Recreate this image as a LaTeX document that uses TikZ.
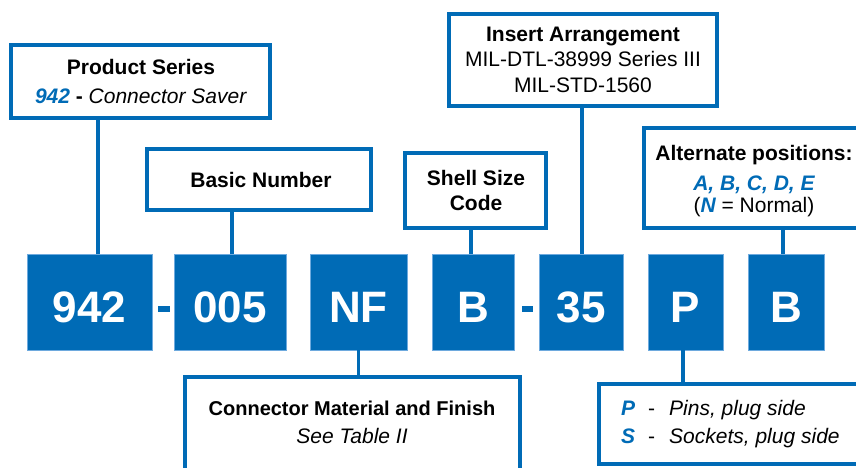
\documentclass[tikz,border=0pt]{standalone}
\usepackage{fontspec}
\setmainfont{Liberation Sans}
\definecolor{mainblue}{RGB}{0,107,182}
\definecolor{edgeblue}{RGB}{110,170,222}
\tikzset{
 codebox/.style={draw=edgeblue, line width=0.8pt, fill=mainblue, inner sep=0pt, outer sep=0pt, anchor=north west, minimum height=96pt},
 labelbox/.style={draw=mainblue, line width=3.5pt, fill=white, inner sep=0pt, outer sep=0pt, anchor=north west},
 dashbox/.style={fill=mainblue, inner sep=0pt, outer sep=0pt, minimum width=12pt, minimum height=6pt},
 link/.style={draw=mainblue, line width=3.5pt},
 codetxt/.style={text=white, font=\fontsize{44}{44}\selectfont\bfseries, anchor=base, inner sep=0pt},
 lbl/.style={font=\fontsize{21}{25}\selectfont, anchor=base, inner sep=0pt},
 lblb/.style={font=\fontsize{21}{25}\selectfont\bfseries, anchor=base, inner sep=0pt},
 lblw/.style={font=\fontsize{21}{25}\selectfont, anchor=base west, inner sep=0pt},
}
\begin{document}
\begin{tikzpicture}[x=1pt,y=-1pt]
\useasboundingbox (0,0) rectangle (856,468);
\clip (0,0) rectangle (856,468);
% label boxes
\node[labelbox, minimum width=259pt, minimum height=73pt] (ps) at (11,45) {};
\node[labelbox, minimum width=224pt, minimum height=61pt] (basic) at (147,149) {};
\node[labelbox, minimum width=141pt, minimum height=75pt] (shell) at (405,153) {};
\node[labelbox, minimum width=268pt, minimum height=92pt] (insert) at (449,14) {};
\node[labelbox, minimum width=226pt, minimum height=100pt] (alt) at (644,128) {};
\node[labelbox, minimum width=335pt, minimum height=110pt] (mat) at (185,377) {};
\node[labelbox, minimum width=271pt, minimum height=80pt] (pins) at (599,384) {};
% code boxes
\node[codebox, minimum width=125pt] (c942) at (27,254) {};
\node[codebox, minimum width=112pt] (c005) at (174,254) {};
\node[codebox, minimum width=97pt] (cNF) at (310,254) {};
\node[codebox, minimum width=82pt] (cB) at (432,254) {};
\node[codebox, minimum width=84pt] (c35) at (539,254) {};
\node[codebox, minimum width=75pt] (cP) at (648,254) {};
\node[codebox, minimum width=76pt] (cB2) at (748,254) {};
\node[dashbox] (d1) at (164,309) {};
\node[dashbox, minimum width=11pt] (d2) at (527.5,309) {};
% code texts
\node[codetxt] (t942) at (89.5,322) {942};
\node[codetxt] (t005) at (230,322) {005};
\node[codetxt] (tNF) at (358.5,322) {NF};
\node[codetxt] (tB) at (473,322) {B};
\node[codetxt] (t35) at (581,322) {35};
\node[codetxt] (tP) at (685.5,322) {P};
\node[codetxt] (tB2) at (786,322) {B};
% connectors
\draw[link] ([xshift=8.5pt]c942.north) -- ([xshift=8.5pt]c942.north |- ps.south);
\draw[link] ([xshift=2pt]c005.north) -- ([xshift=2pt]c005.north |- basic.south);
\draw[link] ([xshift=-2pt]cB.north) -- ([xshift=-2pt]cB.north |- shell.south);
\draw[link] ([xshift=1pt]c35.north) -- ([xshift=1pt]c35.north |- insert.south);
\draw[link] ([xshift=-3pt]cB2.north) -- ([xshift=-3pt]cB2.north |- alt.south);
\draw[link] (cNF.south) -- (cNF.south |- mat.north);
\draw[link] ([xshift=-2.5pt]cP.south) -- ([xshift=-2.5pt]cP.south |- pins.north);
% label texts
\node[lblb] (pst) at (141,75) {Product Series};
\node[lbl] (psd) at (141,104) {\textcolor{mainblue}{\bfseries\itshape 942} \textbf{-} \textit{Connector Saver}};
\node[lblb] (bnt) at (261,187) {Basic Number};
\node[lblb] (sst1) at (476,185) {Shell Size};
\node[lblb] (sst2) at (476,210) {Code};
\node[lblb] (iat1) at (583,42) {Insert Arrangement};
\node[lbl] (iat2) at (583,67) {MIL-DTL-38999 Series III};
\node[lbl] (iat3) at (583,93) {MIL-STD-1560};
\node[lblb] (alt1) at (754,160) {Alternate positions:};
\node[lbl, text=mainblue, font=\fontsize{21}{25}\selectfont\bfseries\itshape] (alt2) at (754,190) {A, B, C, D, E};
\node[lbl] (alt3) at (754,212) {(\textcolor{mainblue}{\bfseries\itshape N} = Normal)};
\node[lblb, font=\fontsize{20}{24}\selectfont\bfseries] (mat1) at (352,415) {Connector Material and Finish};
\node[lbl] (mat2) at (352,443) {\itshape See Table II};
\node[lblw, text=mainblue, font=\fontsize{21}{25}\selectfont\bfseries\itshape] (pl) at (621,415) {P};
\node[lblw] (pd) at (648,415) {-};
\node[lblw] (pt) at (669,415) {\itshape Pins, plug side};
\node[lblw, text=mainblue, font=\fontsize{21}{25}\selectfont\bfseries\itshape] (sl) at (621,443) {S};
\node[lblw] (sd) at (648,443) {-};
\node[lblw] (st) at (669,443) {\itshape Sockets, plug side};
\end{tikzpicture}
\end{document}
